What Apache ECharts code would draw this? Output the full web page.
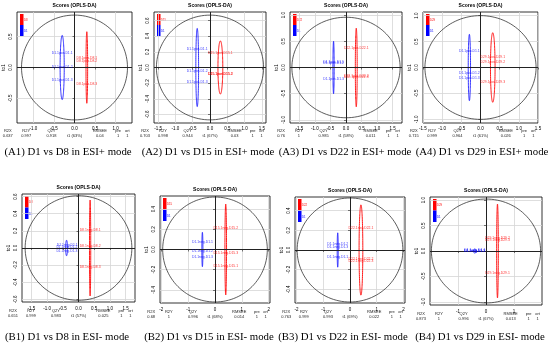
<!DOCTYPE html>
<html><head><meta charset="utf-8">
<script src="https://cdn.jsdelivr.net/npm/echarts@6/dist/echarts.min.js"></script>
<style>html,body{margin:0;padding:0;background:#fff}#c{width:550px;height:343px}</style>
</head><body><div id="c"></div><script>
// ---------- data ----------
const panelIds = ['A1','A2','A3','A4','B1','B2','B3','B4'];
const captions = ['(A1) D1 vs D8 in ESI+ mode','(A2) D1 vs D15 in ESI+ mode','(A3) D1 vs D22 in ESI+ mode','(A4) D1 vs D29 in ESI+ mode',
                  '(B1) D1 vs D8 in ESI- mode','(B2) D1 vs D15 in ESI- mode','(B3) D1 vs D22 in ESI- mode','(B4) D1 vs D29 in ESI- mode'];
const refGroup = 'D1';
const cmpGroup = ['D8','D15','D22','D29','D8','D15','D22','D29'];
const modeTag = ['pos','pos','pos','pos','neg','neg','neg','neg'];
const xMax = [1.4, 1.62, 1.8, 1.5, 1.8, 2.05, 2.06, 2.0];
const yMax = [0.9, 0.71, 1.06, 1.07, 0.63, 0.53, 0.54, 1.06];
const xTicks = [[-1,-0.5,0,0.5,1],[-1.5,-1,-0.5,0,0.5,1,1.5],[-1.5,-1,-0.5,0,0.5,1,1.5],[-1.5,-1,-0.5,0,0.5,1,1.5],
                [-1.5,-1,-0.5,0,0.5,1,1.5],[-2,-1,0,1,2],[-2,-1,0,1,2],[-1,0,1]];
const xDec = [1,1,1,1,1,0,0,0];
const yTicks = [[-0.5,0,0.5],[-0.6,-0.4,-0.2,0,0.2,0.4,0.6],[-1,-0.5,0,0.5,1],[-1,-0.5,0,0.5,1],
                [-0.6,-0.4,-0.2,0,0.2,0.4,0.6],[-0.4,-0.2,0,0.2,0.4],[-0.4,-0.2,0,0.2,0.4],[-1,-0.5,0,0.5,1]];
// Hotelling T2 ellipse radii
const t2Rx = [1.29, 1.55, 1.74, 1.45, 1.70, 1.95, 1.98, 1.95];
const t2Ry = [0.85, 0.67, 0.96, 1.00, 0.61, 0.52, 0.53, 1.02];
// reference group D1 (blue)
const blueX = [[-0.30,-0.30,-0.30],[-0.37,-0.37,-0.37],[-0.40,-0.40,-0.40],[-0.29,-0.29,-0.29],
               [-0.36,-0.37,-0.37],[-0.47,-0.47,-0.47],[-0.46,-0.46,-0.46],[-0.40,-0.41,-0.40]];
const blueY = [[0.23,0.00,-0.20],[0.23,-0.04,-0.18],[0.11,0.09,-0.23],[0.31,-0.10,-0.21],
               [0.03,0.01,-0.03],[0.07,-0.02,-0.07],[-0.07,0.06,0.03],[0.01,0.00,-0.01]];
const blueEll = [[-0.30,0.05,0.52],[-0.37,0.04,0.50],[-0.40,0.02,0.50],[-0.29,0.03,0.64],
                 [-0.38,0.03,0.09],[-0.47,0.02,0.17],[-0.46,0.02,0.175],[-0.40,0.05,0.04]]; // cx, rx, ry
// comparison group (red)
const redX = [[0.30,0.30,0.30],[0.30,0.30,0.30],[0.33,0.33,0.33],[0.32,0.32,0.32],
              [0.37,0.37,0.37],[0.40,0.40,0.40],[0.41,0.41,0.41],[0.41,0.41,0.41]];
const redY = [[0.15,0.11,-0.27],[0.18,-0.08,-0.09],[0.38,-0.17,-0.19],[0.21,0.10,-0.29],
              [0.21,0.02,-0.22],[-0.16,0.21,-0.04],[0.22,-0.09,-0.11],[-0.44,0.25,0.22]];
const redEll = [[0.30,0.02,0.58],[0.30,0.07,0.34],[0.33,0.03,0.75],[0.32,0.06,0.67],
                [0.37,0.02,0.56],[0.40,0.03,0.45],[0.41,0.07,0.46],[0.41,0.03,0.92]];
// model statistics
const statR2X = ['0.637','0.703','0.76','0.715','0.651','0.68','0.763','0.873'];
const statR2Y = ['0.997','0.998','1','0.999','0.999','1','0.999','1'];
const statQ2Y = ['0.918','0.944','0.985','0.964','0.983','0.996','0.993','0.996'];
const statT1 = ['63%','67%','58%','61%','57%','68%','69%','67%'];
const statRMSEE = ['0.04','0.03','0.011','0.026','0.025','0.014','0.022','0.013'];
const statPre = ['1','1','1','1','1','1','1','1'];
const statOrt = ['1','1','1','1','1','1','1','1'];

// ---------- layout ----------
const boxes = [[17,12,115,111],[154,12,112,111],[290,12,112,111],[423,12,115,111],
               [22,194,113,108],[160,196,110,107],[295,197,110,106],[430,197,112,108]];
const captionCenters = [68,208,345,482,67,209,343,480];
const statCols = [-0.08,0.08,0.30,0.5,0.72,0.88,0.96];
const SANS = 'Liberation Sans';
const BLUE = '#0000FF', RED = '#FF0000';

function ellipseRender(color, width){
  return function(params, api){
    const cx = api.value(0), cy = api.value(1), rx = api.value(2), ry = api.value(3);
    const pts = [];
    for (let k = 0; k <= 120; k++){
      const a = k/120*2*Math.PI;
      pts.push(api.coord([cx + rx*Math.cos(a), cy + ry*Math.sin(a)]));
    }
    return {type:'polyline', shape:{points:pts}, style:{stroke:color, lineWidth:width, fill:null}, silent:true};
  };
}
function fmt(d){ return v => Number(v).toFixed(d); }

const grids = [], xAxes = [], yAxes = [], series = [], graphics = [];
panelIds.forEach((id, i) => {
  const [L,T,W,H] = boxes[i];
  const bottomRow = i >= 4;
  grids.push({left:L, top:T, width:W, height:H, show:true, borderColor:'#000', borderWidth:0.8, backgroundColor:'#fff'});
  xAxes.push({gridIndex:i, type:'value', min:-xMax[i], max:xMax[i],
    axisLine:{show:false},
    axisTick:{show:true, customValues:xTicks[i], length:2, lineStyle:{color:'#000', width:0.5}},
    axisLabel:{customValues:xTicks[i], fontSize:4.5, fontFamily:SANS, margin:bottomRow?4:3, color:'#000', formatter:fmt(xDec[i])},
    splitLine:{show:true, lineStyle:{color:'#d6d6d6', width:0.8}}});
  yAxes.push({gridIndex:i, type:'value', min:-yMax[i], max:yMax[i],
    name:'to1', nameLocation:'middle', nameRotate:90, nameGap:11, nameTextStyle:{fontSize:4.5, fontFamily:SANS, color:'#000'},
    axisLine:{show:false},
    axisTick:{show:true, customValues:yTicks[i], length:2, lineStyle:{color:'#000', width:0.5}},
    axisLabel:{customValues:yTicks[i], fontSize:4.5, fontFamily:SANS, margin:4, rotate:90, color:'#000', formatter:fmt(1)},
    splitLine:{show:true, lineStyle:{color:'#d6d6d6', width:0.8}}});
  // Hotelling ellipse + zero lines
  series.push({type:'custom', xAxisIndex:i, yAxisIndex:i, renderItem:ellipseRender('#333', 0.8),
    data:[[0,0,t2Rx[i],t2Ry[i]]], silent:true, z:3,
    markLine:{silent:true, symbol:'none', label:{show:false}, lineStyle:{color:'#222', width:1, type:'solid'},
      data:[{xAxis:0},{yAxis:0}]}});
  series.push({type:'custom', xAxisIndex:i, yAxisIndex:i, renderItem:ellipseRender(BLUE, 0.8),
    data:[[blueEll[i][0],0,blueEll[i][1],blueEll[i][2]]], silent:true, z:4});
  series.push({type:'custom', xAxisIndex:i, yAxisIndex:i, renderItem:ellipseRender(RED, 0.9),
    data:[[redEll[i][0],0,redEll[i][1],redEll[i][2]]], silent:true, z:4});
  const bl = blueX[i].map((x,k) => ({value:[x, blueY[i][k]], name: refGroup+'.1'+modeTag[i]+'.'+refGroup+'.'+(k+1)}));
  const rd = redX[i].map((x,k) => ({value:[x, redY[i][k]], name: cmpGroup[i]+'.1'+modeTag[i]+'.'+cmpGroup[i]+'.'+(k+1)}));
  series.push({type:'scatter', xAxisIndex:i, yAxisIndex:i, symbolSize:0, data:bl, z:5, silent:true,
    label:{show:true, position:'inside', formatter:'{b}', fontSize:3.4, fontFamily:SANS, color:BLUE}});
  series.push({type:'scatter', xAxisIndex:i, yAxisIndex:i, symbolSize:0, data:rd, z:5, silent:true,
    label:{show:true, position:'inside', formatter:'{b}', fontSize:3.4, fontFamily:SANS, color:RED}});

  // title
  graphics.push({type:'text', x:L+W/2, y:T-6, style:{text:'Scores (OPLS-DA)', fontSize:5, fontWeight:'bold', fontFamily:SANS, fill:'#000', align:'center', verticalAlign:'middle'}});
  // legend bar
  const lh = bottomRow ? 11.5 : 11;
  graphics.push({type:'rect', left:L+3, top:T+2, shape:{width:3.5, height:lh}, style:{fill:RED}});
  graphics.push({type:'rect', left:L+3, top:T+2+lh, shape:{width:3.5, height:lh}, style:{fill:BLUE}});
  graphics.push({type:'text', left:L+7, top:T+2+lh*0.45, style:{text:cmpGroup[i], fontSize:2.8, fontFamily:SANS, fill:RED}});
  graphics.push({type:'text', left:L+7, top:T+2+lh*1.45, style:{text:refGroup, fontSize:2.8, fontFamily:SANS, fill:BLUE}});
  // statistics
  const heads = ['R2X','R2Y','Q2Y','','RMSEE','pre','ort'];
  const vals = [statR2X[i], statR2Y[i], statQ2Y[i], 't1 ('+statT1[i]+')', statRMSEE[i], statPre[i], statOrt[i]];
  const hy = bottomRow ? T+H+9 : T+H+8;
  statCols.forEach((f,c) => {
    const cx = L + f*W;
    if (heads[c]) graphics.push({type:'text', x:cx, y:hy, style:{text:heads[c], fontSize:4, fontFamily:SANS, fill:'#222', align:'center', verticalAlign:'middle'}});
    graphics.push({type:'text', x:cx, y:hy+5, style:{text:vals[c], fontSize:4, fontFamily:SANS, fill:'#222', align:'center', verticalAlign:'middle'}});
  });
  // caption
  graphics.push({type:'text', x:captionCenters[i], y:bottomRow?337:152, style:{text:captions[i], fontSize:10.8, fontFamily:'Liberation Serif', fill:'#000', align:'center', verticalAlign:'middle'}});
});

const chart = echarts.init(document.getElementById('c'), null, {renderer:'canvas'});
chart.setOption({animation:false, grid:grids, xAxis:xAxes, yAxis:yAxes, series:series, graphic:graphics});
</script></body></html>
